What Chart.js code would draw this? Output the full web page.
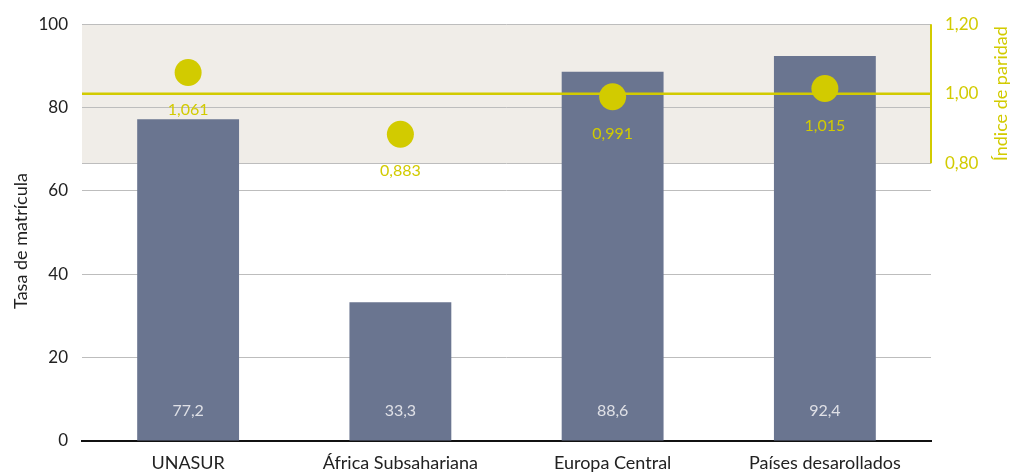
<!DOCTYPE html>
<html>
<head>
<meta charset="utf-8">
<script src="https://cdn.jsdelivr.net/npm/chart.js@4"></script>
<style>
  html, body { margin: 0; padding: 0; background: #fff; }
  #wrap { width: 1013px; height: 472px; }
</style>
</head>
<body>
<div id="wrap"><canvas id="tasaChart"></canvas></div>
<script>
const regiones = ['UNASUR', 'África Subsahariana', 'Europa Central', 'Países desarollados'];
const tasaMatricula = [77.2, 33.3, 88.6, 92.4];
const indiceParidad = [1.061, 0.883, 0.991, 1.015];
const ticksParidad = [0.8, 1.0, 1.2];

const AZUL = '#6a7590';
const AMARILLO = '#d2cb00';
const FONT = 'Lato, "DejaVu Sans", sans-serif';

const coma = (v, d) => v.toFixed(d).replace('.', ',');

// banda sombreada, línea de paridad 1,00, eje derecho y etiquetas
const decor = {
  id: 'decor',
  beforeDraw(chart) {
    const { ctx, chartArea: a, scales } = chart;
    const top = scales.y1.getPixelForValue(1.2);
    const bot = scales.y1.getPixelForValue(0.8);
    ctx.save();
    ctx.fillStyle = '#f0ede8';
    ctx.fillRect(a.left, top, a.right - a.left, bot - top);
    ctx.restore();
  },
  beforeDatasetsDraw(chart) {
    const { ctx, chartArea: a, scales } = chart;
    const y = Math.round(scales.y1.getPixelForValue(0.8)) + 0.5;
    ctx.save();
    ctx.strokeStyle = '#bdbdbd';
    ctx.lineWidth = 1;
    ctx.beginPath();
    ctx.moveTo(a.left, y);
    ctx.lineTo(a.right, y);
    ctx.stroke();
    ctx.restore();
  },
  afterDatasetDraw(chart, args) {
    if (args.index !== 0) return;
    const { ctx, chartArea: a, scales } = chart;
    const y = scales.y1.getPixelForValue(1.0);
    ctx.save();
    ctx.strokeStyle = AMARILLO;
    ctx.lineWidth = 2.5;
    ctx.beginPath();
    ctx.moveTo(a.left, y);
    ctx.lineTo(a.right, y);
    ctx.stroke();
    // eje derecho solo sobre la banda
    ctx.lineWidth = 2;
    ctx.beginPath();
    ctx.moveTo(a.right, scales.y1.getPixelForValue(1.2));
    ctx.lineTo(a.right, scales.y1.getPixelForValue(0.8));
    ctx.stroke();
    ctx.restore();
  },
  afterDatasetsDraw(chart) {
    const { ctx, chartArea: a, scales } = chart;
    ctx.save();
    ctx.font = '16px ' + FONT;
    ctx.textAlign = 'center';
    ctx.textBaseline = 'middle';

    const barras = chart.getDatasetMeta(0).data;
    ctx.fillStyle = '#dfe0e6';
    barras.forEach((b, i) => ctx.fillText(coma(tasaMatricula[i], 1), b.x, a.bottom - 30));

    const puntos = chart.getDatasetMeta(1).data;
    ctx.fillStyle = AMARILLO;
    puntos.forEach((p, i) => ctx.fillText(coma(indiceParidad[i], 3), p.x, p.y + 37));

    // títulos de los ejes
    ctx.font = '18px ' + FONT;
    ctx.fillStyle = '#222';
    ctx.save();
    ctx.translate(21, 241);
    ctx.rotate(-Math.PI / 2);
    ctx.fillText('Tasa de matrícula', 0, 0);
    ctx.restore();

    ctx.fillStyle = AMARILLO;
    ctx.save();
    ctx.translate(1001, scales.y1.getPixelForValue(1.0));
    ctx.rotate(-Math.PI / 2);
    ctx.fillText('Índice de paridad', 0, 0);
    ctx.restore();
    ctx.restore();
  }
};

new Chart(document.getElementById('tasaChart'), {
  data: {
    labels: regiones,
    datasets: [
      {
        type: 'bar',
        data: tasaMatricula,
        backgroundColor: AZUL,
        yAxisID: 'y',
        categoryPercentage: 1,
        barPercentage: 0.48,
        order: 2,
      },
      {
        type: 'line',
        data: indiceParidad,
        yAxisID: 'y1',
        showLine: false,
        pointRadius: 13.5,
        pointHoverRadius: 13.5,
        pointBackgroundColor: AMARILLO,
        pointBorderWidth: 0,
        order: 1,
      },
    ],
  },
  options: {
    responsive: true,
    maintainAspectRatio: false,
    animation: false,
    layout: { padding: { top: 20, left: 0, right: 0, bottom: 0 } },
    scales: {
      x: {
        grid: { display: false },
        border: { color: '#111', width: 2 },
        ticks: { color: '#222', font: { family: FONT, size: 18 }, padding: 3, maxRotation: 0 },
        afterFit: s => { s.height = 31; },
      },
      y: {
        position: 'left',
        min: 0,
        max: 100,
        ticks: { stepSize: 20, color: '#222', font: { family: FONT, size: 17 }, padding: 14 },
        grid: { color: '#bdbdbd', drawTicks: false },
        border: { display: false },
        afterFit: s => { s.width = 82; },
      },
      y1: {
        position: 'right',
        min: 0,
        max: 1.2,
        afterBuildTicks: s => { s.ticks = ticksParidad.map(v => ({ value: v })); },
        ticks: {
          color: AMARILLO,
          font: { family: FONT, size: 17 },
          padding: 14,
          callback: v => coma(v, 2),
        },
        grid: { display: false, drawTicks: false },
        border: { display: false },
        afterFit: s => { s.width = 82; },
      },
    },
    plugins: {
      legend: false,
      tooltip: { enabled: false },
    },
  },
  plugins: [decor],
});
</script>
</body>
</html>
